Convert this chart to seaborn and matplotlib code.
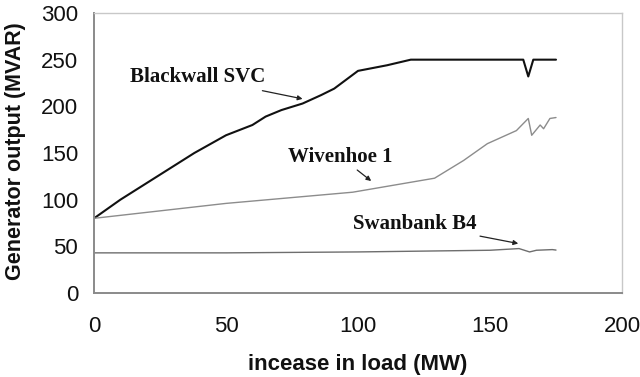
import matplotlib
matplotlib.use("Agg")
import matplotlib.pyplot as plt
import seaborn as sns
import pandas as pd

# Data
blackwall_x = [0, 10, 24, 38, 50, 60, 65, 71, 79, 86, 91, 100, 111, 120, 162.6, 164.5, 166.4, 175]
blackwall_y = [80, 100, 125, 150, 169, 180, 189, 196, 203, 212, 219, 238, 244, 250, 250, 232, 250, 250]

wivenhoe_x = [0, 50, 86, 98, 129, 140, 149, 160, 164.5, 165.8, 169, 170.3, 172.7, 175]
wivenhoe_y = [80, 96, 105, 108, 123, 142, 160, 174, 187, 169, 180, 176, 187, 188]

swanbank_x = [0, 50, 100, 150, 161, 165, 167.6, 173.6, 175]
swanbank_y = [43, 43, 44, 45.8, 47.6, 44, 45.8, 46.5, 46]

series_names = ["Blackwall SVC", "Wivenhoe 1", "Swanbank B4"]
x_ticks = [0, 50, 100, 150, 200]
y_ticks = [0, 50, 100, 150, 200, 250, 300]

frames = []
for name, xs, ys in zip(series_names,
                        [blackwall_x, wivenhoe_x, swanbank_x],
                        [blackwall_y, wivenhoe_y, swanbank_y]):
    frames.append(pd.DataFrame({"load": xs, "mvar": ys, "gen": name}))
df = pd.concat(frames, ignore_index=True)

sns.set_style("white")
plt.rcParams['font.family'] = ['Liberation Sans', 'DejaVu Sans']

fig = plt.figure(figsize=(6.4, 3.77), dpi=100)
ax = fig.add_axes([94/640, 1-293/377, (622-94)/640, (293-13)/377])

palette = {"Blackwall SVC": "#111111", "Wivenhoe 1": "#8c8c8c", "Swanbank B4": "#6e6e6e"}
sizes = {"Blackwall SVC": 1.5, "Wivenhoe 1": 1.0, "Swanbank B4": 1.0}
sns.lineplot(data=df, x="load", y="mvar", hue="gen", size="gen", sizes=sizes,
             palette=palette, sort=False, estimator=None, legend=False, ax=ax)

ax.set_xlim(0, 200)
ax.set_ylim(0, 300)
ax.set_xticks(x_ticks)
ax.set_yticks(y_ticks)
ax.tick_params(axis='both', which='major', direction='out', length=5.5, width=1.2,
               color='#808080', labelsize=16, labelcolor='#111111')
ax.tick_params(axis='x', pad=11)
ax.tick_params(axis='y', pad=6)

for s in ['left', 'bottom']:
    ax.spines[s].set_color('#8a8a8a')
    ax.spines[s].set_linewidth(1.4)
for s in ['top', 'right']:
    ax.spines[s].set_color('#c8c8c8')
    ax.spines[s].set_linewidth(1.0)
    ax.spines[s].set_visible(True)

ax.set_xlabel("incease in load (MW)", fontsize=16, fontweight='bold', labelpad=12, color='#111111')
ax.set_ylabel("Generator output (MVAR)", fontsize=15.5, fontweight='bold', color='#111111')
ax.yaxis.set_label_coords(-0.128, 0.508)

ann_font = dict(family='Liberation Serif', fontweight='bold', fontsize=15, color='#111111')
arrow = dict(arrowstyle='-|>', color='#222222', lw=0.9, mutation_scale=7, shrinkA=0, shrinkB=0)
ax.annotate("Blackwall SVC", xy=(79, 208), xytext=(13.5, 231),
            ha='left', va='center', arrowprops=arrow, **ann_font)
ax.annotate("Wivenhoe 1", xy=(105, 120), xytext=(73.5, 146),
            ha='left', va='center', arrowprops=arrow, **ann_font)
ax.annotate("Swanbank B4", xy=(160.7, 53), xytext=(98.2, 74.4),
            ha='left', va='center', arrowprops=arrow, **ann_font)

fig.savefig("out.png", dpi=100)
